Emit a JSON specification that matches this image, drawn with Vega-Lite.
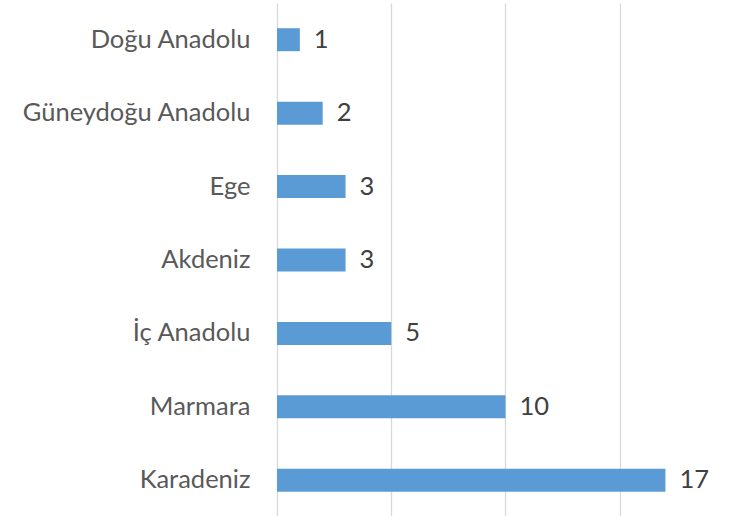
{
  "$schema": "https://vega.github.io/schema/vega-lite/v6.json",
  "autosize": {"type": "none"},
  "padding": {"left": 277, "top": 3, "right": 0, "bottom": 0},
  "width": 454,
  "height": 514,
  "background": "white",
  "config": {"view": {"stroke": null}, "font": "Lato"},
  "data": {"values": [
    {"region": "Doğu Anadolu", "count": 1},
    {"region": "Güneydoğu Anadolu", "count": 2},
    {"region": "Ege", "count": 3},
    {"region": "Akdeniz", "count": 3},
    {"region": "İç Anadolu", "count": 5},
    {"region": "Marmara", "count": 10},
    {"region": "Karadeniz", "count": 17}
  ]},
  "encoding": {
    "y": {
      "field": "region", "type": "nominal", "sort": null,
      "scale": {"paddingInner": 0.687, "paddingOuter": 0.3435},
      "axis": {"title": null, "ticks": false, "domain": false, "labelPadding": 27, "labelFontSize": 25.5, "labelFontWeight": "normal", "labelColor": "#595959", "labelFont": "Lato", "labelLimit": 300}
    },
    "x": {
      "field": "count", "type": "quantitative",
      "scale": {"domain": [0, 19.87], "nice": false, "zero": true},
      "axis": {"title": null, "values": [0, 5, 10, 15], "labels": false, "ticks": false, "domain": false, "grid": true, "gridColor": "#d9d9d9", "gridWidth": 1.3}
    }
  },
  "layer": [
    {"mark": {"type": "bar", "color": "#5b9bd5"}},
    {"mark": {"type": "text", "align": "left", "baseline": "middle", "dx": 14, "fontSize": 25.5, "fontWeight": "normal", "color": "#404040", "font": "Lato"},
     "encoding": {"text": {"field": "count", "type": "quantitative"}}}
  ]
}
